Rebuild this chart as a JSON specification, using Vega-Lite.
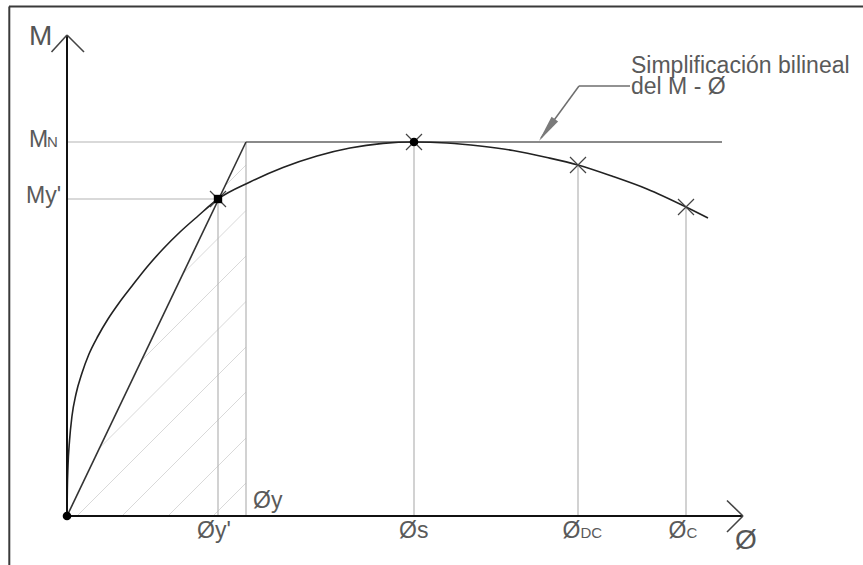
{
  "$schema": "https://vega.github.io/schema/vega-lite/v6.json",
  "width": 863,
  "height": 565,
  "autosize": {"type": "none"},
  "padding": 0,
  "background": "white",
  "config": {"view": {"stroke": null}},
  "datasets": {
    "curve": [
      {"phi": 0, "M": 0}, {"phi": 0.3, "M": 25}, {"phi": 1, "M": 50}, {"phi": 2.5, "M": 75},
      {"phi": 5, "M": 100}, {"phi": 9, "M": 122}, {"phi": 15, "M": 143}, {"phi": 22, "M": 162},
      {"phi": 31, "M": 180}, {"phi": 41, "M": 197}, {"phi": 52, "M": 213}, {"phi": 65, "M": 230},
      {"phi": 80, "M": 249}, {"phi": 96, "M": 267}, {"phi": 113, "M": 284}, {"phi": 131, "M": 300},
      {"phi": 151, "M": 317}, {"phi": 183, "M": 334}, {"phi": 216, "M": 348.5},
      {"phi": 250, "M": 360}, {"phi": 283, "M": 368}, {"phi": 316, "M": 372.6}, {"phi": 347, "M": 374},
      {"phi": 380, "M": 373}, {"phi": 413, "M": 370}, {"phi": 446, "M": 365.5}, {"phi": 480, "M": 358.5},
      {"phi": 511, "M": 351}, {"phi": 546, "M": 339.5}, {"phi": 580, "M": 327}, {"phi": 619, "M": 309},
      {"phi": 641, "M": 298}
    ],
    "segments": [
      {"phi": -58, "M": 509.5, "phi2": 796, "M2": 509.5, "kind": "frame"},
      {"phi": -57.7, "M": 509.5, "phi2": -57.7, "M2": -49, "kind": "frame"},
      {"phi": 0, "M": 0, "phi2": 0, "M2": 481, "kind": "axis"},
      {"phi": 0, "M": 0, "phi2": 676, "M2": 0, "kind": "axis"},
      {"phi": -15.5, "M": 464, "phi2": 0, "M2": 481, "kind": "arm"},
      {"phi": 17, "M": 464, "phi2": 0, "M2": 481, "kind": "arm"},
      {"phi": 660, "M": 15.5, "phi2": 676, "M2": 0, "kind": "arm"},
      {"phi": 660, "M": -16, "phi2": 676, "M2": 0, "kind": "arm"},
      {"phi": 0, "M": 374, "phi2": 179, "M2": 374, "kind": "ref"},
      {"phi": 0, "M": 317, "phi2": 151, "M2": 317, "kind": "ref"},
      {"phi": 151, "M": 317, "phi2": 151, "M2": 0, "kind": "ref"},
      {"phi": 179, "M": 374, "phi2": 179, "M2": 0, "kind": "ref"},
      {"phi": 347, "M": 374, "phi2": 347, "M2": 0, "kind": "ref"},
      {"phi": 511, "M": 351, "phi2": 511, "M2": 0, "kind": "ref"},
      {"phi": 619, "M": 309, "phi2": 619, "M2": 0, "kind": "ref"},
      {"phi": 0, "M": 0, "phi2": 179, "M2": 374, "kind": "secant"},
      {"phi": 179, "M": 374, "phi2": 655, "M2": 374, "kind": "bilin"},
      {"phi": 10, "M": 0, "phi2": 179, "M2": 169, "kind": "hatch"},
      {"phi": 55, "M": 0, "phi2": 179, "M2": 124, "kind": "hatch"},
      {"phi": 101, "M": 0, "phi2": 179, "M2": 78, "kind": "hatch"},
      {"phi": 146, "M": 0, "phi2": 179, "M2": 33, "kind": "hatch"},
      {"phi": 32.6, "M": 68.1, "phi2": 179, "M2": 214.5, "kind": "hatch"},
      {"phi": 74.4, "M": 155.4, "phi2": 179, "M2": 260, "kind": "hatch"},
      {"phi": 116.2, "M": 242.7, "phi2": 179, "M2": 305.5, "kind": "hatch"},
      {"phi": 157.9, "M": 329.9, "phi2": 179, "M2": 351, "kind": "hatch"},
      {"phi": 512, "M": 430, "phi2": 474, "M2": 378, "kind": "leader"},
      {"phi": 512, "M": 430, "phi2": 563, "M2": 430, "kind": "leader"}
    ],
    "markers": [
      {"phi": 0, "M": 0, "type": "dot"},
      {"phi": 151, "M": 317, "type": "square"},
      {"phi": 151, "M": 317, "type": "x"},
      {"phi": 347, "M": 374, "type": "dot"},
      {"phi": 347, "M": 374, "type": "x"},
      {"phi": 511, "M": 351, "type": "x"},
      {"phi": 619, "M": 309, "type": "x"},
      {"phi": 479.9, "M": 385.9, "type": "arrowhead"}
    ],
    "labels": [
      {"phi": -38, "M": 471, "text": "M", "role": "big"},
      {"phi": 668, "M": -33, "text": "Ø", "role": "big"},
      {"phi": -38, "M": 369, "text": "M", "role": "main"},
      {"phi": -20, "M": 369, "text": "N", "role": "sub"},
      {"phi": -41, "M": 313, "text": "My'", "role": "main"},
      {"phi": 130, "M": -22, "text": "Øy'", "role": "main"},
      {"phi": 186, "M": 8, "text": "Øy", "role": "main"},
      {"phi": 332, "M": -22, "text": "Øs", "role": "main"},
      {"phi": 495.5, "M": -22, "text": "Ø", "role": "main"},
      {"phi": 513.5, "M": -22, "text": "DC", "role": "sub"},
      {"phi": 601.5, "M": -22, "text": "Ø", "role": "main"},
      {"phi": 619.5, "M": -22, "text": "C", "role": "sub"},
      {"phi": 564, "M": 443, "text": "Simplificación bilineal", "role": "main"},
      {"phi": 564, "M": 422, "text": "del M - Ø", "role": "main"}
    ]
  },
  "encoding": {
    "x": {"field": "phi", "type": "quantitative", "scale": {"domain": [-67, 796], "nice": false, "zero": false}, "axis": null},
    "y": {"field": "M", "type": "quantitative", "scale": {"domain": [-49, 516], "nice": false, "zero": false}, "axis": null}
  },
  "layer": [
    {"data": {"name": "segments"}, "transform": [{"filter": "datum.kind === 'frame'"}],
     "mark": {"type": "rule", "color": "#3a3a3a", "strokeWidth": 2},
     "encoding": {"x2": {"field": "phi2"}, "y2": {"field": "M2"}}},
    {"data": {"name": "segments"}, "transform": [{"filter": "datum.kind === 'hatch'"}],
     "mark": {"type": "rule", "color": "#d9d9d9", "strokeWidth": 1},
     "encoding": {"x2": {"field": "phi2"}, "y2": {"field": "M2"}}},
    {"data": {"name": "segments"}, "transform": [{"filter": "datum.kind === 'ref'"}],
     "mark": {"type": "rule", "color": "#b4b4b4", "strokeWidth": 1.2},
     "encoding": {"x2": {"field": "phi2"}, "y2": {"field": "M2"}}},
    {"data": {"name": "segments"}, "transform": [{"filter": "datum.kind === 'bilin'"}],
     "mark": {"type": "rule", "color": "#8a8a8a", "strokeWidth": 2},
     "encoding": {"x2": {"field": "phi2"}, "y2": {"field": "M2"}}},
    {"data": {"name": "segments"}, "transform": [{"filter": "datum.kind === 'secant'"}],
     "mark": {"type": "rule", "color": "#333333", "strokeWidth": 1.6},
     "encoding": {"x2": {"field": "phi2"}, "y2": {"field": "M2"}}},
    {"data": {"name": "curve"},
     "mark": {"type": "line", "color": "#222222", "strokeWidth": 1.6, "interpolate": "monotone"},
     "encoding": {}},
    {"data": {"name": "segments"}, "transform": [{"filter": "datum.kind === 'axis'"}],
     "mark": {"type": "rule", "color": "#111111", "strokeWidth": 2},
     "encoding": {"x2": {"field": "phi2"}, "y2": {"field": "M2"}}},
    {"data": {"name": "segments"}, "transform": [{"filter": "datum.kind === 'arm'"}],
     "mark": {"type": "rule", "color": "#444444", "strokeWidth": 1.6},
     "encoding": {"x2": {"field": "phi2"}, "y2": {"field": "M2"}}},
    {"data": {"name": "segments"}, "transform": [{"filter": "datum.kind === 'leader'"}],
     "mark": {"type": "rule", "color": "#6e6e6e", "strokeWidth": 1.5},
     "encoding": {"x2": {"field": "phi2"}, "y2": {"field": "M2"}}},
    {"data": {"name": "markers"}, "transform": [{"filter": "datum.type === 'arrowhead'"}],
     "mark": {"type": "point", "shape": "M0,-1L0.3,1L-0.3,1Z", "size": 729, "filled": true, "color": "#7a7a7a", "angle": 216, "opacity": 1}},
    {"data": {"name": "markers"}, "transform": [{"filter": "datum.type === 'x'"}],
     "mark": {"type": "point", "shape": "M-1,-1L1,1M-1,1L1,-1", "size": 256, "filled": false, "stroke": "#444444", "strokeWidth": 1.2, "opacity": 1}},
    {"data": {"name": "markers"}, "transform": [{"filter": "datum.type === 'square'"}],
     "mark": {"type": "square", "size": 70, "color": "#000000", "opacity": 1}},
    {"data": {"name": "markers"}, "transform": [{"filter": "datum.type === 'dot'"}],
     "mark": {"type": "circle", "size": 75, "color": "#000000", "opacity": 1}},
    {"data": {"name": "labels"}, "transform": [{"filter": "datum.role === 'main'"}],
     "mark": {"type": "text", "align": "left", "baseline": "alphabetic", "font": "Liberation Sans", "fontSize": 23, "color": "#5a5a5a"},
     "encoding": {"text": {"field": "text"}}},
    {"data": {"name": "labels"}, "transform": [{"filter": "datum.role === 'sub'"}],
     "mark": {"type": "text", "align": "left", "baseline": "alphabetic", "font": "Liberation Sans", "fontSize": 15, "color": "#5a5a5a"},
     "encoding": {"text": {"field": "text"}}},
    {"data": {"name": "labels"}, "transform": [{"filter": "datum.role === 'big'"}],
     "mark": {"type": "text", "align": "left", "baseline": "alphabetic", "font": "Liberation Sans", "fontSize": 28, "color": "#555555"},
     "encoding": {"text": {"field": "text"}}}
  ]
}
